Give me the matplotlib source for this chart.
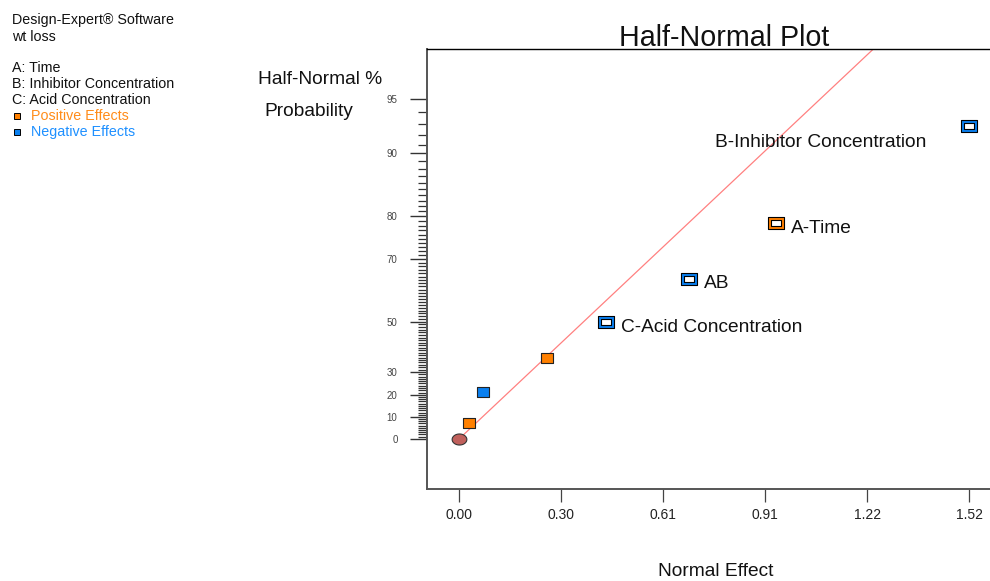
import numpy as np
import matplotlib
matplotlib.use("Agg")
import matplotlib.pyplot as plt
from matplotlib.path import Path
from statistics import NormalDist

plt.rcParams['font.family'] = ['Liberation Sans', 'DejaVu Sans']

# effects (absolute normal effect) and half-normal % probability
effects = [0.030, 0.072, 0.262, 0.436, 0.685, 0.944, 1.520]
probability = [7.14, 21.43, 35.71, 50.0, 64.29, 78.57, 92.86]
sign = ['pos', 'neg', 'pos', 'neg', 'neg', 'pos', 'neg']
names = [None, None, None, 'C-Acid Concentration', 'AB', 'A-Time',
         'B-Inhibitor Concentration']
error_x = [0.0]
error_p = [0.0]
line_slope = 1.819  # z-score per unit effect

x_ticks = [0.0, 0.304, 0.608, 0.912, 1.216, 1.52]
x_tick_labels = ['0.00', '0.30', '0.61', '0.91', '1.22', '1.52']
y_ticks = [0, 10, 20, 30, 50, 70, 80, 90, 95]

ORANGE = '#ff8000'
BLUE = '#0a80f0'

nd = NormalDist()


def to_z(p):
    p = np.clip(np.asarray(p, dtype=float), -99.99, 99.99)
    return np.vectorize(lambda v: nd.inv_cdf(0.5 + v / 200.0), otypes=[float])(p)


def to_p(z):
    z = np.asarray(z, dtype=float)
    return np.vectorize(lambda v: (2 * nd.cdf(v) - 1) * 100.0, otypes=[float])(z)


# rectangle / ellipse markers (wider than tall)
rect = Path([(-1, -0.75), (1, -0.75), (1, 0.75), (-1, 0.75), (-1, -0.75)],
            closed=True)
t = np.linspace(0, 2 * np.pi, 60)
ellipse = Path(np.column_stack([np.cos(t), 0.75 * np.sin(t)]), closed=True)

fig = plt.figure(figsize=(9.9, 5.81), dpi=100)
ax = fig.add_axes([427 / 990, 92 / 581, 594 / 990, 440 / 581])
ax.set_yscale('function', functions=(to_z, to_p))
ax.set_xlim(-0.0963, 1.675)
ax.set_ylim(-22.8, 97.53)

# reference line
xs = np.linspace(0, 1.3, 300)
ax.plot(xs, to_p(line_slope * xs), color='#ff8080', lw=0.9, zorder=2)

# error estimate point
ax.plot(error_x, error_p, ls='none', marker=ellipse, ms=10.6,
        mfc='#c0605c', mec='#333333', mew=0.8, zorder=4)

for x, p, s, n in zip(effects, probability, sign, names):
    c = ORANGE if s == 'pos' else BLUE
    if n is None:
        ax.plot([x], [p], ls='none', marker=rect, ms=8.8, mfc=c,
                mec='#222222', mew=0.8, zorder=5)
    else:
        ax.plot([x], [p], ls='none', marker=rect, ms=12, mfc=c,
                mec='black', mew=0.8, zorder=5)
        ax.plot([x], [p], ls='none', marker=rect, ms=6.5, mfc='white',
                mec='black', mew=0.8, zorder=6)

# effect labels
offsets = {'C-Acid Concentration': (10.8, -4.3, 'left'),
           'AB': (10.8, -3.6, 'left'),
           'A-Time': (10.8, -3.6, 'left'),
           'B-Inhibitor Concentration': (-31, -12.2, 'right')}
for x, p, n in zip(effects, probability, names):
    if n is None:
        continue
    dx, dy, ha = offsets[n]
    ax.annotate(n, (x, p), xytext=(dx, dy), textcoords='offset points',
                ha=ha, va='center', fontsize=13.8, color='#111111')

# axes styling
ax.spines['right'].set_visible(False)
ax.spines['top'].set_color('black')
ax.spines['top'].set_linewidth(1.0)
for side in ['left', 'bottom']:
    ax.spines[side].set_color('#555555')
    ax.spines[side].set_linewidth(1.4)

ax.set_xticks(x_ticks)
ax.set_xticklabels(x_tick_labels)
ax.tick_params(axis='x', direction='out', length=9, width=0.9,
               color='#444444', labelsize=10, pad=5, labelcolor='#222222')

minor = [v for v in range(1, 95) if v not in y_ticks]
ax.set_yticks(y_ticks)
ax.set_yticklabels([str(v) for v in y_ticks])
ax.set_yticks(minor, minor=True)
ax.yaxis.set_minor_formatter(plt.NullFormatter())
ax.tick_params(axis='y', which='major', direction='out', length=12.2,
               width=1.0, color='#333333', labelsize=7, pad=9,
               labelcolor='#444444')
ax.tick_params(axis='y', which='minor', direction='out', length=6.5,
               width=0.9, color='#333333')

# titles and axis labels
fig.text(724 / 990, 1 - 46 / 581, 'Half-Normal Plot', ha='center',
         va='baseline', fontsize=20.6, color='#111111')
fig.text(716 / 990, 1 - 572 / 581, 'Normal Effect', ha='center',
         va='center', fontsize=13.8, color='#111111')
fig.text(258 / 990, 1 - 80 / 581, 'Half-Normal %', ha='left',
         va='center', fontsize=13.8, color='#111111')
fig.text(264 / 990, 1 - 112 / 581, 'Probability', ha='left',
         va='center', fontsize=13.8, color='#111111')

# info panel on the left
info = [('Design-Expert® Software', 20), ('wt loss', 37), ('A: Time', 68),
        ('B: Inhibitor Concentration', 84), ('C: Acid Concentration', 100)]
for txt, yp in info:
    fig.text(12 / 990, 1 - yp / 581, txt, ha='left', va='center',
             fontsize=10.3, color='#111111')
fig.text(31 / 990, 1 - 116 / 581, 'Positive Effects', ha='left',
         va='center', fontsize=10.3, color='#ff8c1a')
fig.text(31 / 990, 1 - 132 / 581, 'Negative Effects', ha='left',
         va='center', fontsize=10.3, color='#1e90ff')
fig.lines.append(plt.Line2D([17 / 990], [1 - 116 / 581], transform=fig.transFigure,
                            marker='s', ms=5, mfc=ORANGE, mec='black', mew=0.7,
                            ls='none'))
fig.lines.append(plt.Line2D([17 / 990], [1 - 132 / 581], transform=fig.transFigure,
                            marker='s', ms=5, mfc=BLUE, mec='black', mew=0.7,
                            ls='none'))

fig.savefig('out.png', dpi=100)
